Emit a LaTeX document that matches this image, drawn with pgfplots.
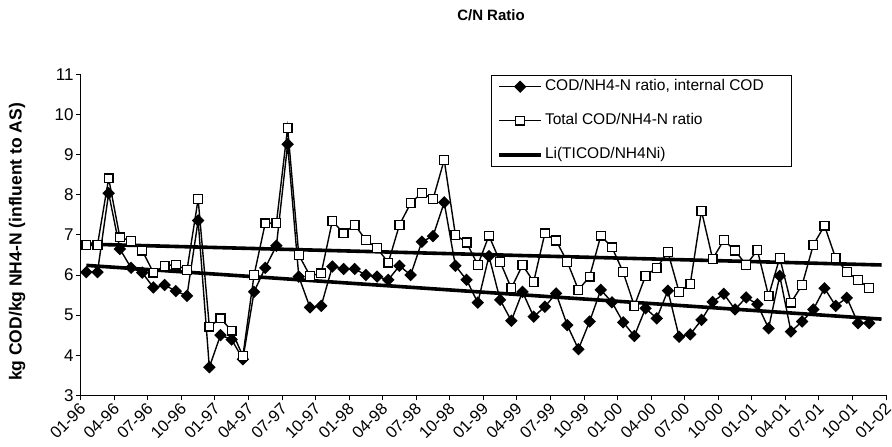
\documentclass[border=0pt]{standalone}
\usepackage{pgfplots}
\usepackage{pgfplotstable}
\pgfplotsset{compat=1.18}
\usepackage{fontspec}
\setmainfont{Liberation Sans}

\pgfplotstableread{
x d s
0.5 6.07 6.75
1.5 6.07 6.75
2.5 8.04 8.41
3.5 6.65 6.94
4.5 6.18 6.85
5.5 6.06 6.61
6.5 5.69 6.06
7.5 5.75 6.23
8.5 5.60 6.26
9.5 5.48 6.12
10.5 7.36 7.89
11.5 3.70 4.71
12.5 4.50 4.92
13.5 4.39 4.61
14.5 3.90 3.98
15.5 5.58 6.00
16.5 6.18 7.29
17.5 6.73 7.30
18.5 9.26 9.67
19.5 5.96 6.50
20.5 5.19 5.98
21.5 5.23 6.04
22.5 6.21 7.35
23.5 6.15 7.04
24.5 6.15 7.25
25.5 6.00 6.87
26.5 5.96 6.67
27.5 5.88 6.31
28.5 6.23 7.25
29.5 6.00 7.79
30.5 6.83 8.05
31.5 6.97 7.89
32.5 7.81 8.87
33.5 6.23 7.00
34.5 5.88 6.81
35.5 5.31 6.25
36.5 6.47 6.98
37.5 5.38 6.33
38.5 4.86 5.67
39.5 5.58 6.25
40.5 4.96 5.83
41.5 5.21 7.04
42.5 5.54 6.86
43.5 4.75 6.33
44.5 4.15 5.63
45.5 4.84 5.96
46.5 5.63 6.98
47.5 5.32 6.69
48.5 4.82 6.07
49.5 4.48 5.23
50.5 5.17 5.98
51.5 4.92 6.18
52.5 5.61 6.57
53.5 4.46 5.58
54.5 4.52 5.78
55.5 4.88 7.60
56.5 5.33 6.40
57.5 5.53 6.87
58.5 5.14 6.61
59.5 5.44 6.25
60.5 5.27 6.62
61.5 4.67 5.48
62.5 5.98 6.43
63.5 4.59 5.31
64.5 4.84 5.75
65.5 5.14 6.75
66.5 5.67 7.23
67.5 5.23 6.42
68.5 5.43 6.08
69.5 4.80 5.87
70.5 4.80 5.68
}\datatable

\pgfplotstableread{
x up low
0.5 6.77 6.24
71.6 6.25 4.90
}\trendtable

\begin{document}
\begin{tikzpicture}[x=1bp,y=1bp]
\begin{axis}[
  at={(80.7bp,51.7bp)}, anchor=south west,
  scale only axis, width=805.3bp, height=320.8bp,
  xmin=0, xmax=72, ymin=3, ymax=11,
  axis x line*=bottom, axis y line*=left,
  axis line style={line width=1bp, -, black},
  xtick={0,3,...,72},
  xticklabels={01-96,04-96,07-96,10-96,01-97,04-97,07-97,10-97,01-98,04-98,07-98,10-98,01-99,04-99,07-99,10-99,01-00,04-00,07-00,10-00,01-01,04-01,07-01,10-01,01-02},
  ytick={3,4,...,11},
  tick style={line width=1bp, black},
  major tick length=5bp,
  tick align=outside,
  /pgf/number format/assume math mode=true,
  x tick label style={rotate=45, anchor=north east, font=\fontsize{16.5bp}{18bp}\selectfont, inner sep=0.5bp, xshift=-2bp, yshift=1bp},
  y tick label style={font=\fontsize{17bp}{19bp}\selectfont, inner sep=2bp},
  title={C/N Ratio},
  title style={at={(axis description cs:0.5095,1.166)}, anchor=center, font=\bfseries\fontsize{15bp}{17bp}\selectfont},
  ylabel={kg COD/kg NH4-N (influent to AS)},
  ylabel style={at={(axis description cs:-0.079,0.478)}, anchor=center, font=\bfseries\fontsize{17.5bp}{19bp}\selectfont},
  legend style={at={(0.5095,0.999)}, anchor=north west, draw=black, line width=0.8bp,
    font=\fontsize{15.5bp}{18bp}\selectfont, inner xsep=6bp, inner ysep=2bp, row sep=15bp,
    nodes={inner xsep=2bp, inner ysep=2bp, text height=11.5bp, text depth=3.5bp}},
  legend cell align=left,
  legend image code/.code={\draw[mark repeat=2, mark phase=2, #1] plot coordinates {(0bp,0bp) (21bp,0bp) (42bp,0bp)};},
]
\addplot[black, line width=1.4bp, mark=square*, mark size=3.7bp, mark options={rotate=45, solid, fill=black}]
  table[x=x, y=d] {\datatable};
\addlegendentry{COD/NH4-N ratio, internal COD\hspace*{20bp}}
\addplot[black, line width=1.4bp, mark=square*, mark size=4.4bp, mark options={solid, fill=white, line width=1.3bp}]
  table[x=x, y=s] {\datatable};
\addlegendentry{Total COD/NH4-N ratio}
\addplot[black, line width=3.6bp] table[x=x, y=up] {\trendtable};
\addlegendentry{Li(TICOD/NH4Ni)}
\addplot[black, line width=3.6bp, forget plot] table[x=x, y=low] {\trendtable};
\end{axis}
\pgfresetboundingbox
\path[use as bounding box] (0,0) rectangle (892bp,447bp);
\end{tikzpicture}
\end{document}
